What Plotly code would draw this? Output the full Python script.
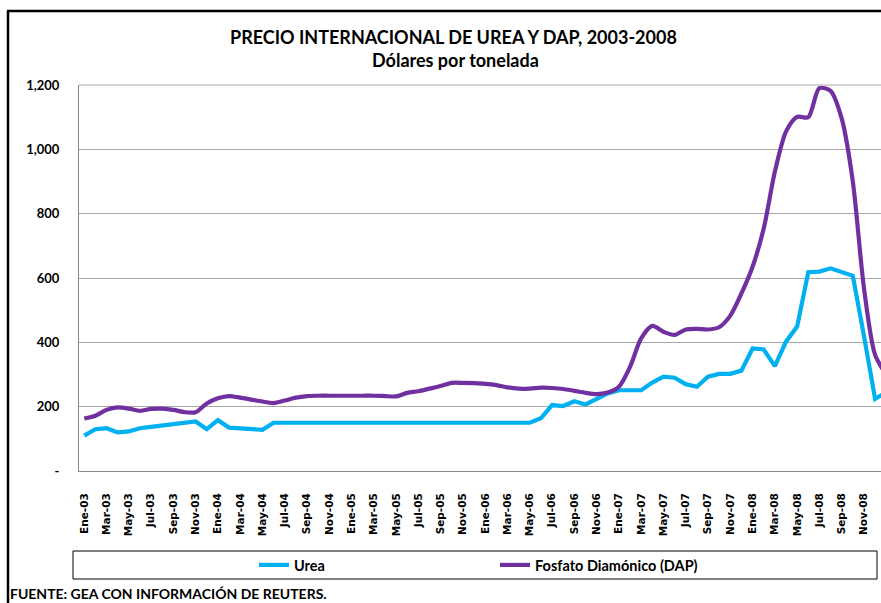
import plotly.graph_objects as go

# ---------------- data ----------------
MONTHS = ["Ene", "Feb", "Mar", "Abr", "May", "Jun", "Jul", "Ago", "Sep", "Oct", "Nov", "Dic"]
YEARS = ["03", "04", "05", "06", "07", "08"]
categories = [f"{m}-{y}" for y in YEARS for m in MONTHS] + ["Ene-09"]
tick_labels = categories[0:72:2]

urea = [
    110, 130, 133, 120, 123, 133, 137, 142, 147, 151, 154, 130,   # 2003
    158, 135, 132, 128, 128, 150, 150, 150, 150, 150, 150, 150,   # 2004
    150, 150, 150, 150, 150, 150, 150, 150, 150, 150, 150, 150,   # 2005
    150, 150, 150, 150, 150, 164, 205, 202, 217, 207, 224, 241,   # 2006
    251, 251, 251, 275, 293, 290, 270, 262, 293, 302, 302, 312,   # 2007
    381, 378, 326, 402, 449, 618, 620, 630, 620, 607, 420, 224,   # 2008
    245,                                                          # 2009
]
dap = [
    163, 172, 190, 198, 194, 187, 193, 194, 190, 183, 183, 210,   # 2003
    226, 233, 228, 222, 216, 211, 219, 228, 233, 234, 234, 234,   # 2004
    234, 234, 234, 233, 232, 243, 248, 256, 264, 274, 274, 273,   # 2005
    271, 267, 260, 256, 256, 259, 258, 255, 249, 243, 239, 244,   # 2006
    262, 324, 412, 451, 433, 423, 440, 442, 440, 447, 483, 552,   # 2007
    635, 754, 930, 1055, 1101, 1100, 1190, 1182, 1096, 900, 569, 361,  # 2008
    300,                                                          # 2009
]
y_tickvals = [0, 200, 400, 600, 800, 1000, 1200]
y_ticktext = ["-", "200", "400", "600", "800", "1,000", "1,200"]

# ---------------- layout helpers ----------------
W, H = 881, 603
PL, PR, PT, PB = 79, 881, 85, 471          # plot area in pixels


def px(x):
    return (x - PL) / (PR - PL)


def py(y):
    return (PB - y) / (PB - PT)


BLUE = "#00B0F0"
PURPLE = "#7030A0"
FONT = "Lato"

fig = go.Figure()
fig.add_trace(go.Scatter(
    x=categories, y=urea, name="Urea", mode="lines",
    line=dict(color=BLUE, width=4.2),
))
fig.add_trace(go.Scatter(
    x=categories, y=dap, name="Fosfato Diamónico (DAP)", mode="lines",
    line=dict(color=PURPLE, width=4.2, shape="spline", smoothing=0.8),
))

fig.update_layout(
    width=W, height=H,
    margin=dict(l=PL, r=W - PR, t=PT, b=H - PB),
    paper_bgcolor="white", plot_bgcolor="white",
    showlegend=True,
    legend=dict(
        orientation="h", x=px(254), y=py(565), xanchor="left", yanchor="middle",
        font=dict(family=FONT, size=14.5, color="black", weight="bold"),
        entrywidth=196, entrywidthmode="pixels",
        bgcolor="rgba(0,0,0,0)", borderwidth=0,
    ),
    xaxis=dict(
        type="category", range=[-0.47, 71.53],
        tickmode="array", tickvals=tick_labels, ticktext=tick_labels,
        tickangle=-90, ticks="", ticklabelstandoff=17,
        tickfont=dict(family="DejaVu Sans", size=10.5, color="black", weight="bold"),
        showline=True, linecolor="#888888", linewidth=1,
        showgrid=False, zeroline=False,
    ),
    yaxis=dict(
        range=[0, 1200], tickmode="array", tickvals=y_tickvals, ticktext=y_ticktext,
        ticks="", ticklabelstandoff=16,
        tickfont=dict(family=FONT, size=13, color="black", weight="bold"),
        showline=True, linecolor="#888888", linewidth=1,
        showgrid=True, gridcolor="#a6a6a6", gridwidth=1, zeroline=False,
    ),
)

# top border of plot area
fig.add_shape(type="line", xref="paper", yref="paper", x0=0, x1=1, y0=1, y1=1,
              line=dict(color="#a6a6a6", width=1))

# legend box
fig.add_shape(type="rect", xref="paper", yref="paper",
              x0=px(73), x1=px(877), y0=py(579), y1=py(551),
              line=dict(color="black", width=1), fillcolor="rgba(0,0,0,0)")

# outer frame (left and top edges)
fig.add_shape(type="line", xref="paper", yref="paper", x0=px(8), x1=px(8), y0=py(11), y1=py(610),
              line=dict(color="black", width=2.5))
fig.add_shape(type="line", xref="paper", yref="paper", x0=px(7), x1=px(890), y0=py(11), y1=py(11),
              line=dict(color="black", width=2.5))

# titles
fig.add_annotation(text="PRECIO INTERNACIONAL DE UREA Y DAP, 2003-2008", xref="paper", yref="paper",
                   x=px(453), y=py(37), xanchor="center", yanchor="middle", showarrow=False,
                   font=dict(family=FONT, size=18, color="black", weight="bold"))
fig.add_annotation(text="Dólares por tonelada", xref="paper", yref="paper",
                   x=px(455), y=py(60), xanchor="center", yanchor="middle", showarrow=False,
                   font=dict(family=FONT, size=18, color="black", weight="bold"))
fig.add_annotation(text="FUENTE: GEA CON INFORMACIÓN DE REUTERS.", xref="paper", yref="paper",
                   x=px(8), y=py(593), xanchor="left", yanchor="middle", showarrow=False,
                   font=dict(family=FONT, size=14, color="black", weight="bold"))

fig.write_html(
    "out.html",
    config={"displayModeBar": False},
    post_script="document.body.style.margin='0';document.body.style.overflow='hidden';",
)
